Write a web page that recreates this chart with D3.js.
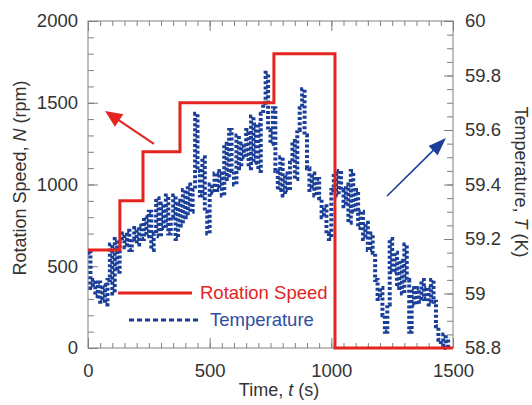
<!DOCTYPE html>
<html><head><meta charset="utf-8">
<script src="https://cdn.jsdelivr.net/npm/d3@7"></script>
<style>
html,body{margin:0;padding:0;background:#fff;}
svg{display:block;font-family:"Liberation Sans",Arial,sans-serif;}
</style></head><body>
<svg id="chart" width="532" height="405"></svg>
<script>
// ---- data ----
const speedTimes  = [0, 131, 226, 378, 764, 1015, 1500];
const speedValues = [600, 900, 1200, 1500, 1800, 0, 0];

const tempStart = 0, tempStep = 10;
const tempValues = [
 59.15,59.02,59.05,58.99,59.04,58.97,59.03,58.96,59.05,59.18,
 59.00,59.20,59.08,59.19,59.22,59.17,59.23,59.16,59.20,59.24,
 59.18,59.25,59.20,59.28,59.21,59.30,59.16,59.22,59.35,59.21,
 59.33,59.24,59.36,59.22,59.28,59.36,59.20,59.34,59.25,59.38,
 59.28,59.40,59.30,59.38,59.66,59.45,59.36,59.50,59.30,59.22,
 59.40,59.37,59.44,59.38,59.45,59.36,59.55,59.42,59.60,59.45,
 59.40,59.58,59.46,59.55,59.50,59.60,59.46,59.65,59.48,59.62,
 59.45,59.66,59.70,59.81,59.60,59.55,59.68,59.45,59.38,59.50,
 59.36,59.44,59.38,59.48,59.56,59.42,59.60,59.68,59.75,59.58,
 59.46,59.38,59.44,59.36,59.42,59.35,59.28,59.32,59.22,59.20,
 59.38,59.44,59.36,59.45,59.38,59.32,59.40,59.26,59.45,59.30,
 59.38,59.24,59.30,59.20,59.26,59.16,59.22,59.15,59.05,58.98,
 59.02,58.92,58.86,58.96,59.20,59.08,59.15,59.02,59.12,59.00,
 59.18,59.05,58.86,59.02,58.96,59.02,58.97,59.05,58.98,59.02,
 58.96,59.05,58.97,58.88,58.83,58.81,58.85,58.80,58.84
];

const xTicks = [0, 500, 1000, 1500];
const leftTicks = [0, 500, 1000, 1500, 2000];
const rightTicks = [58.8, 59, 59.2, 59.4, 59.6, 59.8, 60];

// annotation arrows (data units): [tail, tip]
const speedArrow = [[271, 1248], [70, 1450]];
const tempArrow  = [[1229, 59.358], [1471, 59.571]];

// ---- layout ----
const M = {left: 88, top: 21, right: 79, bottom: 57};
const W = 532 - M.left - M.right, H = 405 - M.top - M.bottom;
const RED = "#e3241f", BLUE = "#1b3f98", BLUE_T = "#2f4ea3", AX = "#808080", TXT = "#333";

const svg = d3.select("#chart");
const g = svg.append("g").attr("transform", `translate(${M.left},${M.top})`);

const x = d3.scaleLinear().domain([0, 1500]).range([0, W]);
const yL = d3.scaleLinear().domain([0, 2000]).range([H, 0]);
const yR = d3.scaleLinear().domain([58.8, 60]).range([H, 0]);

function styleAxis(sel) {
  sel.select(".domain").remove();
  sel.selectAll(".tick line").attr("stroke", AX).attr("stroke-width", 1);
  sel.selectAll(".tick text").attr("fill", TXT).attr("font-size", 18.5);
}

// minor ticks
const xMinor = d3.range(0, 1501, 50);
const lMinor = d3.range(0, 2001, 100);
const rMinor = d3.range(0, 25).map(i => 58.8 + i * 0.05);

g.append("g").attr("transform", `translate(0,${H})`)
  .call(d3.axisBottom(x).tickValues(xMinor).tickSize(-5).tickFormat("")).call(styleAxis);
g.append("g")
  .call(d3.axisTop(x).tickValues(xMinor).tickSize(-5).tickFormat("")).call(styleAxis);
g.append("g")
  .call(d3.axisLeft(yL).tickValues(lMinor).tickSize(-6).tickFormat("")).call(styleAxis);
g.append("g").attr("transform", `translate(${W},0)`)
  .call(d3.axisRight(yR).tickValues(rMinor).tickSize(-6).tickFormat("")).call(styleAxis);

// major ticks + labels
const fmtInt = d3.format("d");
g.append("g").attr("transform", `translate(0,${H})`)
  .call(d3.axisBottom(x).tickValues(xTicks).tickSize(-10).tickPadding(16).tickFormat(fmtInt)).call(styleAxis);
g.append("g")
  .call(d3.axisTop(x).tickValues(xTicks).tickSize(-10).tickFormat("")).call(styleAxis);
g.append("g")
  .call(d3.axisLeft(yL).tickValues(leftTicks).tickSize(-10).tickPadding(10).tickFormat(fmtInt)).call(styleAxis);
g.append("g").attr("transform", `translate(${W},0)`)
  .call(d3.axisRight(yR).tickValues(rightTicks).tickSize(-9).tickPadding(12)
    .tickFormat(d => String(+d.toFixed(1)))).call(styleAxis);

// frame
g.append("rect").attr("width", W).attr("height", H)
  .attr("fill", "none").attr("stroke", AX).attr("stroke-width", 1);

// temperature series
const tempData = tempValues.map((v, i) => [tempStart + i * tempStep, v]);
g.append("path").datum(tempData)
  .attr("fill", "none").attr("stroke", BLUE).attr("stroke-width", 4)
  .attr("stroke-dasharray", "3,2.2")
  .attr("d", d3.line().curve(d3.curveStepAfter).x(d => x(d[0])).y(d => yR(d[1])));

// rotation speed
const speedData = speedTimes.map((t, i) => [t, speedValues[i]]);
g.append("path").datum(speedData)
  .attr("fill", "none").attr("stroke", RED).attr("stroke-width", 3)
  .attr("d", d3.line().curve(d3.curveStepAfter).x(d => x(d[0])).y(d => yL(d[1])));

// arrows
function arrow(p0, p1, color, lw, hl, hw) {
  const dx = p1[0] - p0[0], dy = p1[1] - p0[1];
  const L = Math.hypot(dx, dy), ux = dx / L, uy = dy / L;
  const bx = p1[0] - ux * hl, by = p1[1] - uy * hl;
  g.append("line").attr("x1", p0[0]).attr("y1", p0[1]).attr("x2", bx + ux * 2).attr("y2", by + uy * 2)
    .attr("stroke", color).attr("stroke-width", lw);
  g.append("path").attr("fill", color)
    .attr("d", `M${p1[0]},${p1[1]}L${bx - uy * hw / 2},${by + ux * hw / 2}L${bx + uy * hw / 2},${by - ux * hw / 2}Z`);
}
arrow([x(speedArrow[0][0]), yL(speedArrow[0][1])], [x(speedArrow[1][0]), yL(speedArrow[1][1])], RED, 2, 17, 15);
arrow([x(tempArrow[0][0]), yR(tempArrow[0][1])], [x(tempArrow[1][0]), yR(tempArrow[1][1])], BLUE, 1.6, 18, 13);

// legend
svg.append("line").attr("x1", 118).attr("x2", 192).attr("y1", 293).attr("y2", 293)
  .attr("stroke", RED).attr("stroke-width", 3);
svg.append("text").attr("x", 200).attr("y", 299).attr("font-size", 18.5).attr("fill", RED).text("Rotation Speed");
svg.append("line").attr("x1", 129).attr("x2", 201).attr("y1", 320).attr("y2", 320)
  .attr("stroke", BLUE).attr("stroke-width", 3).attr("stroke-dasharray", "5,3");
svg.append("text").attr("x", 210).attr("y", 326).attr("font-size", 18.5).attr("fill", BLUE_T).text("Temperature");

// axis titles
const lt = svg.append("text").attr("transform", "translate(20,178) rotate(-90)")
  .attr("text-anchor", "middle").attr("dy", "0.35em").attr("font-size", 18).attr("fill", TXT);
lt.append("tspan").text("Rotation Speed, ");
lt.append("tspan").attr("font-style", "italic").text("N");
lt.append("tspan").text(" (rpm)");

const rt = svg.append("text").attr("transform", "translate(521,182) rotate(90)")
  .attr("text-anchor", "middle").attr("dy", "0.35em").attr("font-size", 18).attr("fill", TXT);
rt.append("tspan").text("Temperature, ");
rt.append("tspan").attr("font-style", "italic").text("T");
rt.append("tspan").text(" (K)");

const bt = svg.append("text").attr("x", 279).attr("y", 396)
  .attr("text-anchor", "middle").attr("font-size", 18).attr("fill", TXT);
bt.append("tspan").text("Time, ");
bt.append("tspan").attr("font-style", "italic").text("t");
bt.append("tspan").text(" (s)");
</script>
</body></html>
